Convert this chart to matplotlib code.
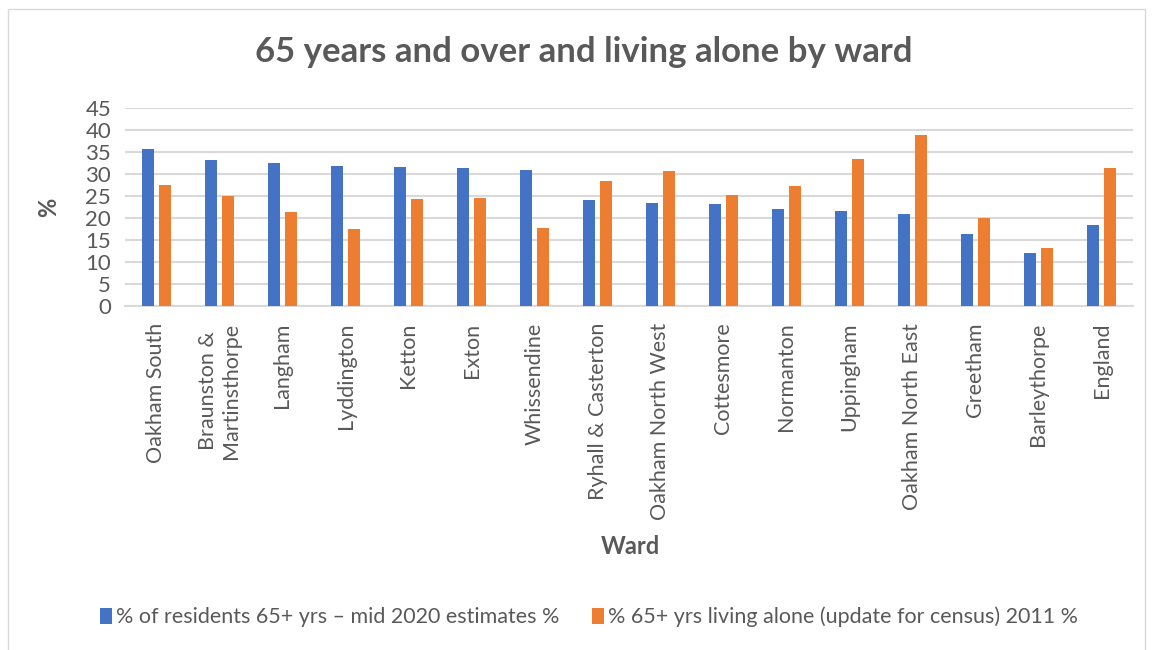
import numpy as np
import matplotlib.pyplot as plt

# ward names and the two series
wards = ["Oakham South", "Braunston &\nMartinsthorpe", "Langham", "Lyddington",
         "Ketton", "Exton", "Whissendine", "Ryhall & Casterton",
         "Oakham North West", "Cottesmore", "Normanton", "Uppingham",
         "Oakham North East", "Greetham", "Barleythorpe", "England"]
residents_65 = [35.7, 33.2, 32.5, 31.9, 31.5, 31.3, 30.8, 24.1,
                23.3, 23.1, 22.1, 21.6, 20.9, 16.4, 12.1, 18.3]
living_alone = [27.5, 25.0, 21.4, 17.4, 24.4, 24.5, 17.7, 28.3,
                30.7, 25.3, 27.3, 33.5, 38.9, 20.0, 13.2, 31.4]
yticks = list(range(0, 50, 5))

label_a = "% of residents 65+ yrs \u2013 mid 2020 estimates %"
label_b = "% 65+ yrs living alone (update for census) 2011 %"

plt.rcParams['font.family'] = ['Lato', 'DejaVu Sans']
grey = "#595959"

fig = plt.figure(figsize=(11.52, 6.5), dpi=100)
ax = fig.add_axes([125/1152, 1-306/650, (1133-125)/1152, (306-108)/650])

x = np.arange(len(wards))
w = 0.205
off = 0.135
ax.bar(x - off, residents_65, w, color="#4472C4", label=label_a, zorder=3)
ax.bar(x + off, living_alone, w, color="#ED7D31", label=label_b, zorder=3)

ax.set_xlim(-0.5, len(wards) - 0.5)
ax.set_ylim(0, 45)
ax.set_yticks(yticks)
ax.yaxis.grid(True, color="#D9D9D9", linewidth=1.5, zorder=0)
ax.set_axisbelow(True)
for s in ["top", "right", "left"]:
    ax.spines[s].set_visible(False)
ax.spines["bottom"].set_color("#D9D9D9")
ax.spines["bottom"].set_linewidth(1.5)
ax.tick_params(axis="both", length=0, colors=grey)
ax.tick_params(axis="y", labelsize=16, pad=10)
ax.set_xticks(x)
ax.set_xticklabels(wards, rotation=90, va="top", ha="center")
ax.tick_params(axis="x", labelsize=15.5, pad=12)

ax.set_ylabel("%", fontsize=17, fontweight="bold", color=grey, labelpad=18)
fig.text(630/1152, 1-547/650, "Ward", fontsize=17, fontweight="bold",
         color=grey, ha="center", va="center")
fig.text(584/1152, 1-52/650, "65 years and over and living alone by ward",
         fontsize=25, fontweight="bold", color=grey, ha="center", va="center")

fig.legend(loc="center", bbox_to_anchor=(589/1152, 1-617/650), ncol=2,
           frameon=False, fontsize=15.5, handlelength=0.55, handleheight=0.8,
           handletextpad=0.2, columnspacing=1.5, labelcolor=grey)

# light frame round the chart area
fig.patches.append(plt.Rectangle((8/1152, -0.05), (1145-8)/1152, 1 - 9/650 + 0.05,
                                 transform=fig.transFigure, fill=False,
                                 edgecolor="#D9D9D9", linewidth=1))

plt.savefig("out.png", dpi=100)
